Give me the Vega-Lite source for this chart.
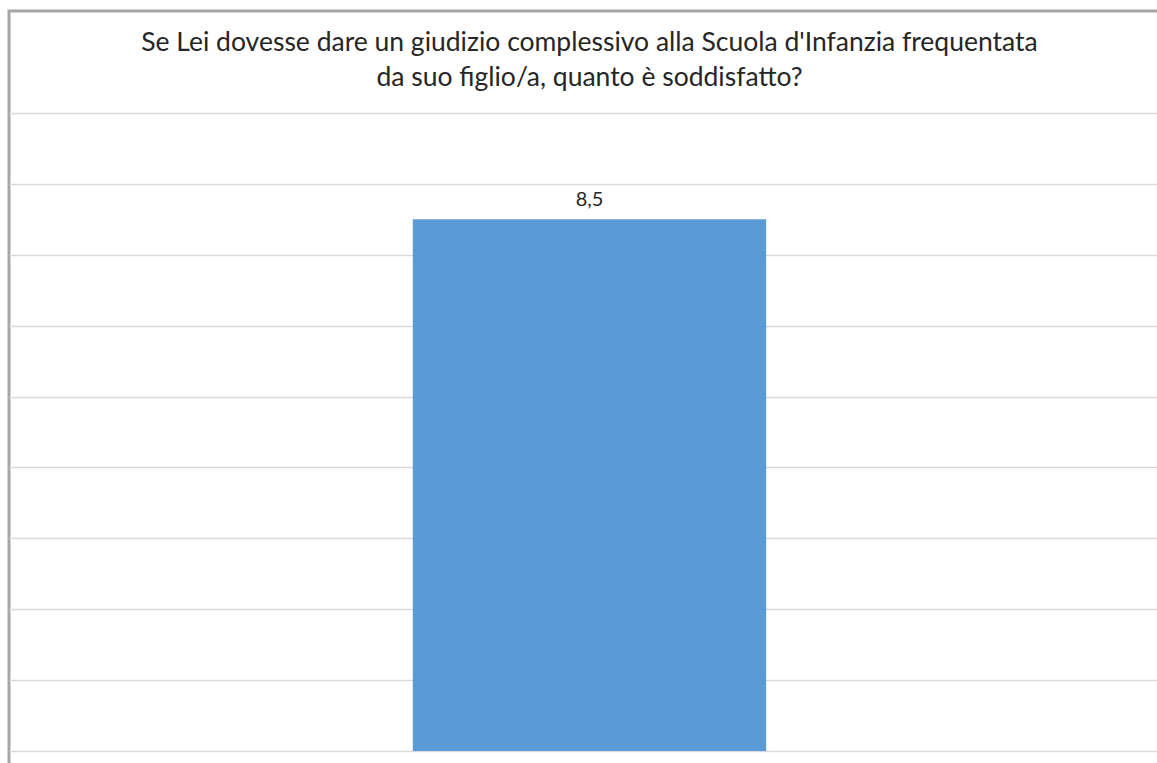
{
  "$schema": "https://vega.github.io/schema/vega-lite/v6.json",
  "autosize": "none",
  "width": 1161,
  "height": 764,
  "padding": {"left": 9, "top": 11, "right": 0, "bottom": 0},
  "background": "white",
  "config": {
    "view": {"stroke": "#a6a6a6", "strokeWidth": 3},
    "locale": {"number": {"decimal": ",", "thousands": ".", "grouping": [3], "currency": ["", " €"]}}
  },
  "title": {
    "text": ["Se Lei dovesse dare un giudizio complessivo alla Scuola d'Infanzia frequentata", "da suo figlio/a, quanto è soddisfatto?"],
    "font": "Lato",
    "fontSize": 26.5,
    "fontWeight": "normal",
    "color": "#262626",
    "anchor": "middle",
    "lineHeight": 35,
    "offset": -80
  },
  "data": {"values": [{"item": "Giudizio complessivo", "value": 8.5, "base": 1}]},
  "encoding": {
    "x": {"field": "item", "type": "nominal", "axis": null, "scale": {"paddingInner": 0.125, "paddingOuter": 1}}
  },
  "layer": [
    {
      "mark": {"type": "bar", "color": "#5b9bd5"},
      "encoding": {
        "y": {
          "field": "value", "type": "quantitative",
          "scale": {"domain": [0.6614, 11.4389], "nice": false, "zero": false},
          "axis": {"values": [1, 2, 3, 4, 5, 6, 7, 8, 9, 10], "labels": false, "ticks": false, "domain": false, "title": null, "grid": true, "gridColor": "#d9d9d9", "gridWidth": 1.5}
        },
        "y2": {"field": "base"}
      }
    },
    {
      "mark": {"type": "text", "dy": -19, "font": "Lato", "fontSize": 20, "color": "#262626"},
      "encoding": {
        "y": {"field": "value", "type": "quantitative"},
        "text": {"field": "value", "type": "quantitative", "format": ".1f"}
      }
    }
  ]
}
